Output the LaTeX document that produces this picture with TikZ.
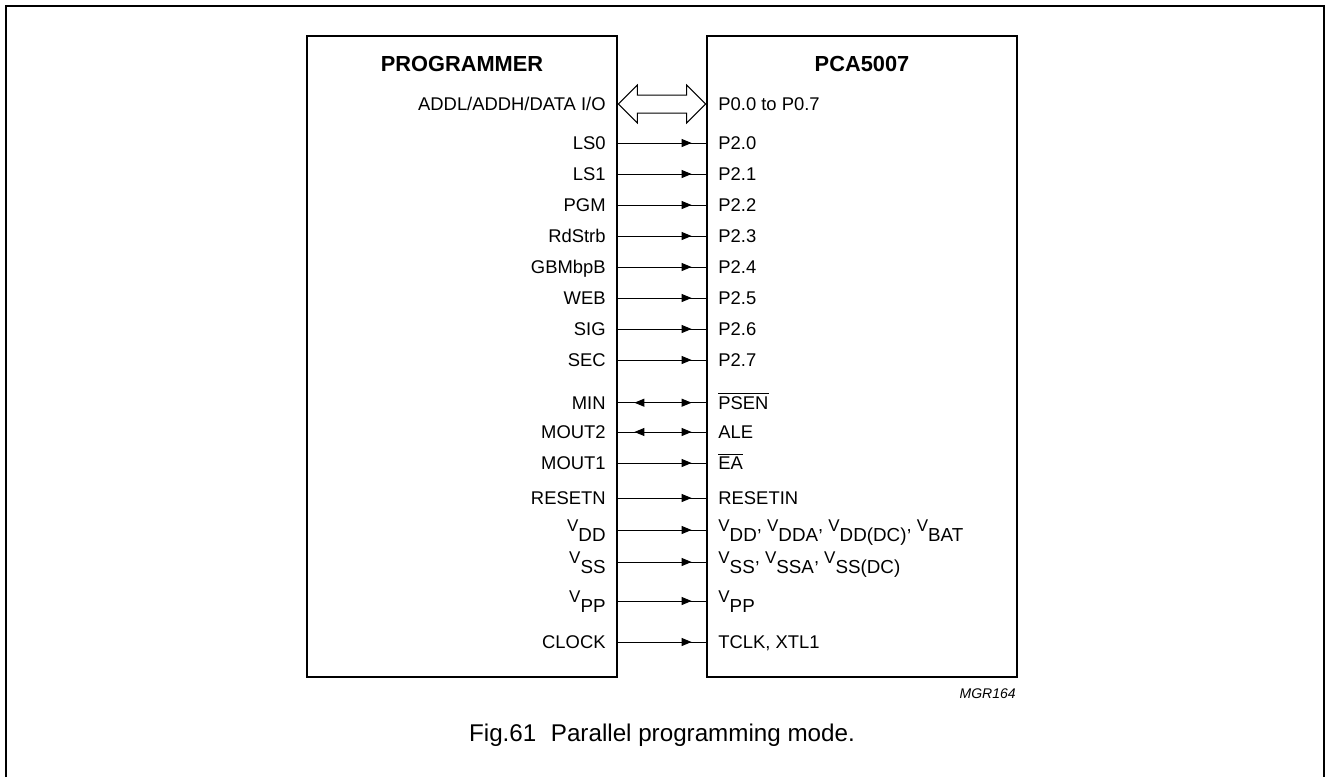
\documentclass[tikz,border=0pt]{standalone}
\usepackage{fontspec}
\setmainfont{Liberation Sans}
\usetikzlibrary{arrows.meta,positioning,calc,decorations.markings}

% overlined pin names and supply names
\newcommand{\ovl}[1]{$\overline{\mbox{#1}}$}
\newcommand{\vs}[1]{{\fontsize{8.5}{10}\selectfont V}\raisebox{-5pt}{\fontsize{9.4}{11}\selectfont #1}}
\newcommand{\vlab}[1]{\raisebox{2.4pt}{#1}}

\tikzset{
  chip/.style={rectangle, draw, line width=1.4pt, minimum width=155pt, minimum height=320.5pt, inner sep=0pt},
  chiptitle/.style={inner sep=0pt, font=\fontsize{10.9}{13}\selectfont\bfseries, text height=7.8pt, text depth=0pt},
  pinl/.style={anchor=east, inner sep=0pt, font=\fontsize{9.2}{11}\selectfont, text height=6.6pt, text depth=0pt},
  pinr/.style={pinl, anchor=west},
  sig/.style={line width=0.5pt, postaction={decorate},
    decoration={markings, mark=at position -7pt with {\arrow{Triangle[length=5pt,width=4pt]}}}},
  sigboth/.style={line width=0.5pt, postaction={decorate},
    decoration={markings, mark=at position 8pt with {\arrowreversed{Triangle[length=5pt,width=4pt]}},
      mark=at position -7pt with {\arrow{Triangle[length=5pt,width=4pt]}}}},
  bus/.style={line width=0.5pt, line join=miter},
}

\begin{document}
\begin{tikzpicture}[x=0.5pt,y=-0.5pt]
  \useasboundingbox (0,0) rectangle (1327,777);
  \draw[line width=1pt] (5.5,777) -- (5.5,6) -- (1323.5,6) -- (1323.5,777);

  \node[chip] (prog) at (462,356.5) {};
  \node[chip] (mcu) at (862,356.5) {};
  \node[chiptitle, below=10.5pt of prog.north] (progtitle) {PROGRAMMER};
  \node[chiptitle, below=10.5pt of mcu.north] (mcutitle) {PCA5007};

  % data bus
  \node[pinl] (addr) at (606,104) {ADDL/ADDH/DATA I/O};
  \node[pinr] (port0) at (718,104) {P0.0 to P0.7};
  \coordinate (busa) at (addr.east -| prog.east);
  \coordinate (busb) at (port0.west -| mcu.west);
  \draw[bus] (busa) -- ++(19,-19) -- ++(0,10) -- ($(busb)+(-19,-9)$) -- ++(0,-10) -- (busb)
    -- ++(-19,19) -- ++(0,-10) -- ($(busa)+(19,9)$) -- ++(0,10) -- cycle;

  % control and supply lines
  \foreach \y/\l/\r/\s [count=\i] in {
      143/LS0/P2.0/sig, 174/LS1/P2.1/sig, 205/PGM/P2.2/sig, 236/RdStrb/P2.3/sig,
      267/GBMbpB/P2.4/sig, 298/WEB/P2.5/sig, 329/SIG/P2.6/sig, 360/SEC/P2.7/sig,
      402.7/MIN/{\ovl{PSEN}}/sigboth, 432/MOUT2/ALE/sigboth, 463/MOUT1/{\ovl{EA}}/sig,
      498/RESETN/RESETIN/sig,
      530/{\vlab{\vs{DD}}}/{\vlab{\vs{DD}, \vs{DDA}, \vs{DD(DC)}, \vs{BAT}}}/sig,
      562/{\vlab{\vs{SS}}}/{\vlab{\vs{SS}, \vs{SSA}, \vs{SS(DC)}}}/sig,
      601/{\vlab{\vs{PP}}}/{\vlab{\vs{PP}}}/sig,
      642/CLOCK/{TCLK, XTL1}/sig} {
    \node[pinl] (lft\i) at (606,\y) {\l};
    \node[pinr] (rgt\i) at (718,\y) {\r};
    \draw[\s] (lft\i.east -| prog.east) -- (rgt\i.west -| mcu.west);
  }

  \node[anchor=base east, inner sep=0pt, font=\fontsize{7}{8}\selectfont\itshape] (figcode) at (1016,698) {MGR164};
  \node[anchor=base, inner sep=0pt, font=\fontsize{12.1}{14}\selectfont] (caption) at (662,741.7)
    {Fig.61\hspace{0.6em}Parallel programming mode.};
\end{tikzpicture}
\end{document}
